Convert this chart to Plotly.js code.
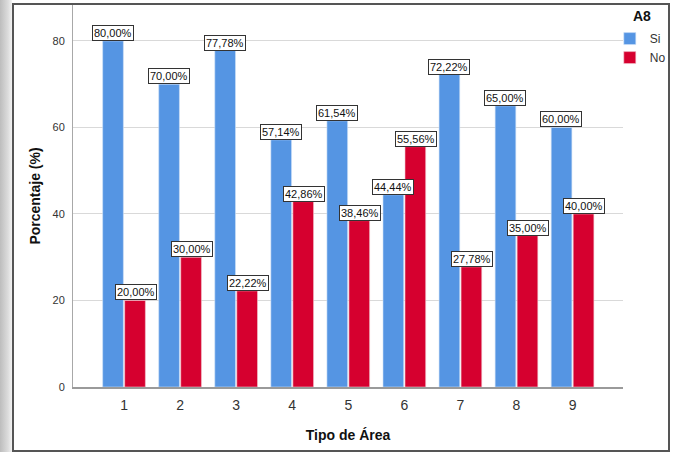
<!DOCTYPE html>
<html>
<head>
<meta charset="utf-8">
<script src="https://cdn.plot.ly/plotly-3.0.1.min.js"></script>
<style>
html,body{margin:0;padding:0;}
body{width:673px;height:452px;overflow:hidden;}
#wrap{position:relative;width:673px;height:452px;background:linear-gradient(to right,#bdbdbd 0px,#dcdcdc 8px,#f2f2f2 12px,#ffffff 12px);}
#chart{position:absolute;left:0;top:0;width:673px;height:452px;z-index:1;}
#frame{position:absolute;left:12px;top:3px;width:654px;height:445px;border:2px solid #555;pointer-events:none;z-index:1000;box-sizing:content-box;}
</style>
</head>
<body>
<div id="wrap">
<div id="chart"></div>
<div id="frame"></div>
</div>
<script>
const categories = ['1','2','3','4','5','6','7','8','9'];
const siValues = [80.00, 70.00, 77.78, 57.14, 61.54, 44.44, 72.22, 65.00, 60.00];
const noValues = [20.00, 30.00, 22.22, 42.86, 38.46, 55.56, 27.78, 35.00, 40.00];
const seriesNames = ['Si', 'No'];
const legendTitle = 'A8';
const xTitle = 'Tipo de Área';
const yTitle = 'Porcentaje (%)';

const blue = '#5595e3';
const red = '#d6002f';

function fmt(v){ return v.toFixed(2).replace('.', ',') + '%'; }

const traces = [
  {type:'bar', name:seriesNames[0], x:categories, y:siValues, marker:{color:blue, line:{color:'#cfe0f6', width:0.6}}, hoverinfo:'y'},
  {type:'bar', name:seriesNames[1], x:categories, y:noValues, marker:{color:red, line:{color:'#f0c7d0', width:0.6}}, hoverinfo:'y'}
];

const annotations = [];
function addLabels(vals, shift){
  vals.forEach((v,i)=>{
    annotations.push({x:i, y:v, xref:'x', yref:'y', text:fmt(v), showarrow:false,
      xanchor:'center', yanchor:'bottom', xshift:shift, yshift:0,
      font:{family:'Liberation Sans, Arial, sans-serif', size:11, color:'#111'},
      bgcolor:'#ffffff', bordercolor:'#333333', borderwidth:1, borderpad:1});
  });
}
addLabels(siValues, -11.5);
addLabels(noValues, 11.5);
annotations.push({xref:'paper', yref:'paper', x:1.054, y:0.997, xanchor:'right', yanchor:'top',
  text:'<b>'+legendTitle+'</b>', showarrow:false, font:{size:14, color:'#111'}});

const layout = {
  width:673, height:452,
  margin:{l:73, r:50, t:5, b:65, autoexpand:false},
  paper_bgcolor:'rgba(0,0,0,0)',
  plot_bgcolor:'#ffffff',
  barmode:'group',
  bargap:0.215,
  bargroupgap:0.06,
  font:{family:'Liberation Sans, Arial, sans-serif', color:'#333'},
  xaxis:{type:'category', range:[-0.91, 8.9], showgrid:false, zeroline:false,
    showline:true, linecolor:'#9a9a9a', linewidth:2,
    ticks:'outside', ticklen:4, tickcolor:'rgba(0,0,0,0)',
    tickfont:{size:14, color:'#333'},
    title:{text:'<b>'+xTitle+'</b>', font:{size:14, color:'#111'}, standoff:18}},
  yaxis:{range:[0, 88.3], dtick:20, showgrid:true, gridcolor:'#d9d9d9', gridwidth:1,
    zeroline:false, showline:true, linecolor:'#a8a8a8', linewidth:1,
    ticks:'outside', ticklen:5, tickcolor:'rgba(0,0,0,0)',
    tickfont:{size:11, color:'#333'},
    title:{text:'<b>'+yTitle+'</b>', font:{size:14, color:'#111'}, standoff:8}},
  legend:{x:0.976, xanchor:'left', y:0.95, yanchor:'top', bgcolor:'rgba(0,0,0,0)',
    font:{size:12, color:'#333'}, itemwidth:30, tracegroupgap:0},
  annotations:annotations
};

Plotly.newPlot('chart', traces, layout, {displayModeBar:false, staticPlot:true});
</script>
</body>
</html>
